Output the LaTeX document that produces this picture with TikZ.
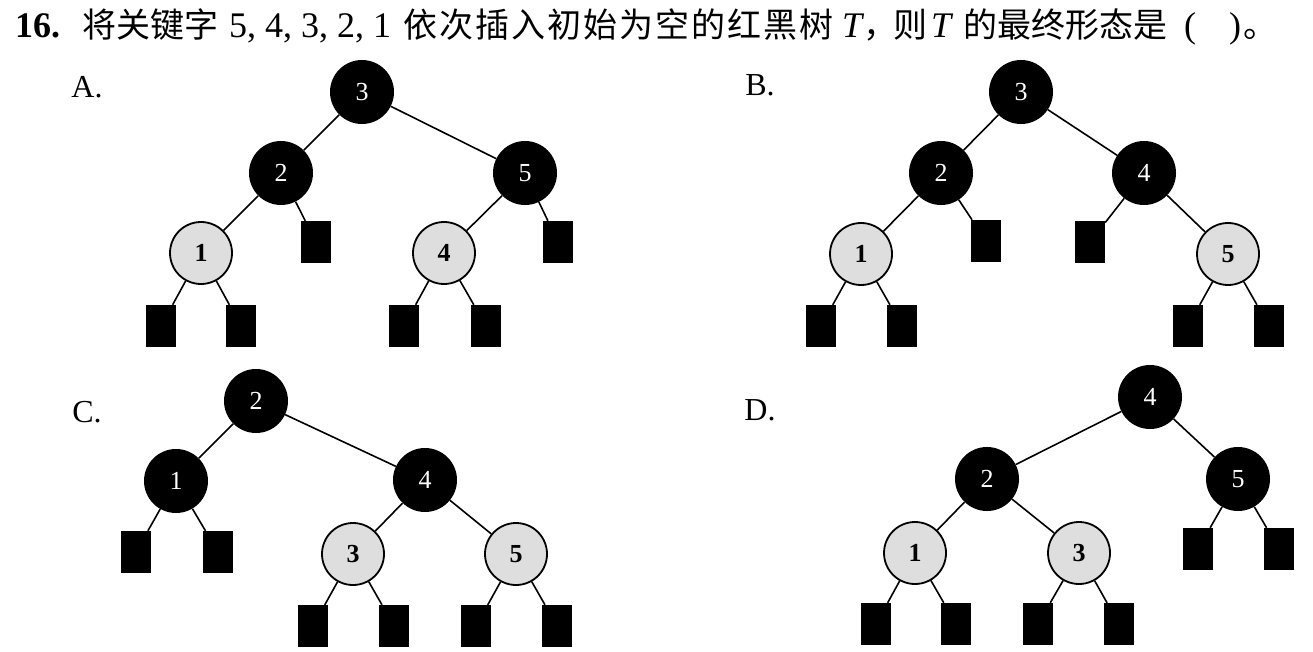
\documentclass[tikz,border=0pt]{standalone}
\usepackage{fontspec}
\setmainfont{Liberation Serif}
\newfontfamily\cjk{Noto Sans CJK SC}
\newcommand\cgap{\hspace{2pt}}
\begin{document}
\begin{tikzpicture}[x=1pt,y=-1pt,
  bnode/.style={circle,fill=black,minimum size=64pt,inner sep=0pt,text=white,font=\fontsize{26}{26}\selectfont},
  rnode/.style={circle,fill=black!13,draw=black,line width=1.8pt,minimum size=62pt,inner sep=0pt,text=black,font=\fontsize{26}{26}\selectfont\bfseries},
  leaf/.style={rectangle,fill=black,minimum width=30pt,minimum height=42pt,inner sep=0pt},
  edge/.style={line width=1.6pt},
  lbl/.style={font=\fontsize{32}{32}\selectfont,inner sep=0pt},
  tl/.style={anchor=base west,inner sep=0pt,font=\fontsize{36}{36}\selectfont},
  tc/.style={anchor=base west,inner sep=0pt,font=\fontsize{34}{34}\selectfont\cjk}]
\useasboundingbox (0,0) rectangle (1313,652);
% title
\node[tl,font=\fontsize{36}{36}\selectfont\bfseries] (t0) at (15,38) {16.};
\node[tc] (t1) at (82,38) {将关键字};
\node[tl] (t2) at (229,38) {5, 4, 3, 2, 1};
\node[tc] (t3) at (403,38) {依\cgap 次\cgap 插\cgap 入\cgap 初\cgap 始\cgap 为\cgap 空\cgap 的\cgap 红\cgap 黑\cgap 树};
\node[tl,font=\fontsize{36}{36}\selectfont\itshape] (t4) at (842,38) {T};
\node[tc] (t5) at (863,38) {，};
\node[tc] (t6) at (893,38) {则};
\node[tl,font=\fontsize{36}{36}\selectfont\itshape] (t7) at (931,38) {T};
\node[tc] (t8) at (963,38) {的最终形态是};
\node[tl] (t9) at (1184,38) {(};
\node[tl] (t10) at (1229,38) {)};
\node[tc] (t11) at (1243,38) {。};
% labels
\node[lbl] (lA) at (87,87) {A.};
\node[lbl] (lB) at (760,85) {B.};
\node[lbl] (lC) at (87,412) {C.};
\node[lbl] (lD) at (760,410) {D.};
% Tree A
\node[bnode] (a3) at (362,92) {3};
\node[bnode] (a2) at (281,173) {2};
\node[bnode] (a5) at (525,173) {5};
\node[rnode] (a1) at (201,253) {1};
\node[rnode] (a4) at (444,253) {4};
\node[leaf] (aL2) at (316,242) {};
\node[leaf] (aL5) at (558,242) {};
\node[leaf] (aL1a) at (161,326) {};
\node[leaf] (aL1b) at (241,326) {};
\node[leaf] (aL4a) at (404,326) {};
\node[leaf] (aL4b) at (486,326) {};
\draw[edge] (a3)--(a2) (a3)--(a5) (a2)--(a1) (a2)--(aL2) (a5)--(a4) (a5)--(aL5)
  (a1)--(aL1a) (a1)--(aL1b) (a4)--(aL4a) (a4)--(aL4b);
% Tree B
\node[bnode] (b3) at (1021,92) {3};
\node[bnode] (b2) at (941,173) {2};
\node[bnode] (b4) at (1144,173) {4};
\node[rnode] (b1) at (861,254) {1};
\node[rnode] (b5) at (1228,254) {5};
\node[leaf] (bL2) at (986,241) {};
\node[leaf] (bL4) at (1090,242) {};
\node[leaf] (bL1a) at (821,326) {};
\node[leaf] (bL1b) at (902,326) {};
\node[leaf] (bL5a) at (1188,326) {};
\node[leaf] (bL5b) at (1269,326) {};
\draw[edge] (b3)--(b2) (b3)--(b4) (b2)--(b1) (b2)--(bL2) (b4)--(bL4) (b4)--(b5)
  (b1)--(bL1a) (b1)--(bL1b) (b5)--(bL5a) (b5)--(bL5b);
% Tree C
\node[bnode] (c2) at (256,401) {2};
\node[bnode] (c1) at (176,481) {1};
\node[bnode] (c4) at (425,480) {4};
\node[rnode] (c3) at (353,554) {3};
\node[rnode] (c5) at (516,554) {5};
\node[leaf] (cL1a) at (136,552) {};
\node[leaf] (cL1b) at (218,552) {};
\node[leaf] (cL3a) at (313,626) {};
\node[leaf] (cL3b) at (394,626) {};
\node[leaf] (cL5a) at (476,626) {};
\node[leaf] (cL5b) at (557,626) {};
\draw[edge] (c2)--(c1) (c2)--(c4) (c1)--(cL1a) (c1)--(cL1b) (c4)--(c3) (c4)--(c5)
  (c3)--(cL3a) (c3)--(cL3b) (c5)--(cL5a) (c5)--(cL5b);
% Tree D
\node[bnode] (d4) at (1150,397) {4};
\node[bnode] (d2) at (987,479) {2};
\node[bnode] (d5) at (1238,479) {5};
\node[rnode] (d1) at (915,553) {1};
\node[rnode] (d3) at (1079,553) {3};
\node[leaf] (dL5a) at (1198,549) {};
\node[leaf] (dL5b) at (1279,549) {};
\node[leaf] (dL1a) at (876,624) {};
\node[leaf] (dL1b) at (956,624) {};
\node[leaf] (dL3a) at (1038,624) {};
\node[leaf] (dL3b) at (1119,624) {};
\draw[edge] (d4)--(d2) (d4)--(d5) (d2)--(d1) (d2)--(d3) (d5)--(dL5a) (d5)--(dL5b)
  (d1)--(dL1a) (d1)--(dL1b) (d3)--(dL3a) (d3)--(dL3b);
\end{tikzpicture}
\end{document}
